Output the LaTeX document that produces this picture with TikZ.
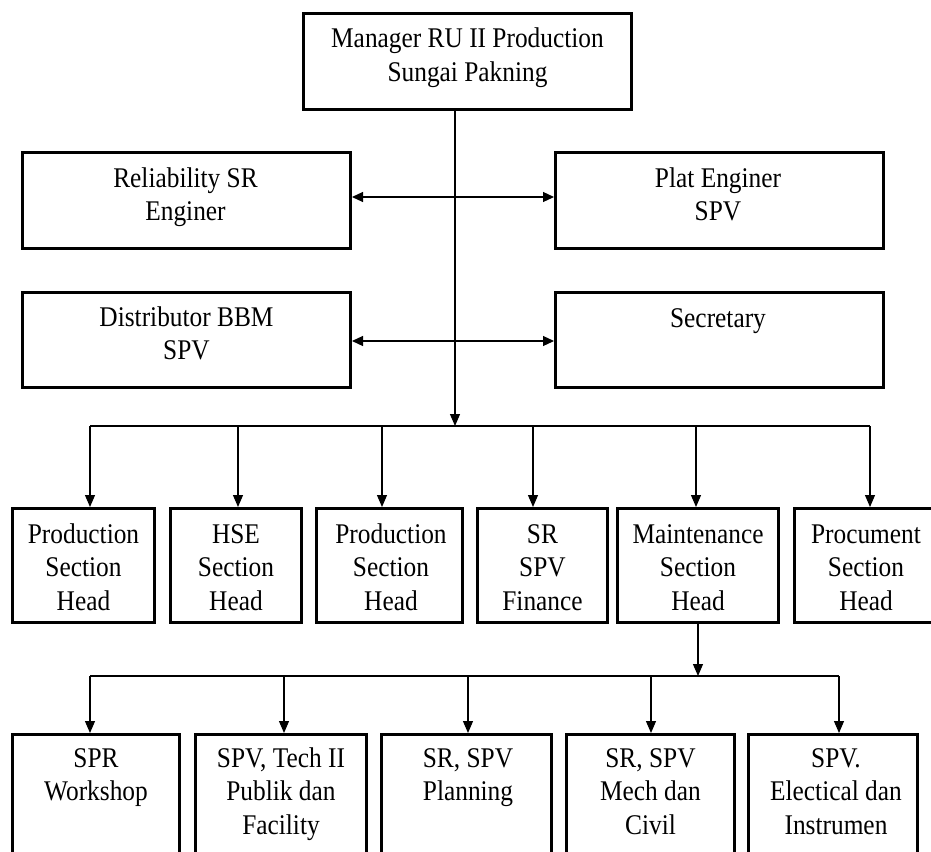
\documentclass[tikz,border=0pt]{standalone}
\usepackage{fontspec}
\setmainfont{Liberation Serif}[FakeStretch=0.89]
\usetikzlibrary{arrows.meta}
\newcommand{\boxlines}[1]{\begin{tabular}[t]{@{}c@{}}#1\end{tabular}}
\begin{document}
\begin{tikzpicture}[x=1pt,y=-1pt,
  boxst/.style={draw, line width=3pt, inner sep=0pt},
  lbl/.style={anchor=base, inner sep=0pt, font=\fontsize{28.5}{33.5}\selectfont},
  conn/.style={line width=1.2pt},
  arr/.style={conn, -{Triangle[length=12pt,width=10pt]}},
  darr/.style={conn, {Triangle[length=11pt,width=10pt]}-{Triangle[length=11pt,width=10pt]}}]
\clip (0,0) rectangle (931,851);
\useasboundingbox (0,0) rectangle (931,851);

% top boxes
\node[boxst, minimum width=328pt, minimum height=96pt] (man) at (467.5,61.5) {};
\node[boxst, minimum width=328pt, minimum height=96pt] (rel) at (186.5,200.5) {};
\node[boxst, minimum width=328pt, minimum height=96pt] (plat) at (719.5,200.5) {};
\node[boxst, minimum width=328pt, minimum height=95pt] (dist) at (186.5,340) {};
\node[boxst, minimum width=328pt, minimum height=95pt] (sec) at (719.5,340) {};

\node[lbl] (tman) at (467.5,48) {\boxlines{Manager RU II Production\\Sungai Pakning}};
\node[lbl] (trel) at (185.5,187) {\boxlines{Reliability SR\\Enginer}};
\node[lbl] (tplat) at (718,187) {\boxlines{Plat Enginer\\SPV}};
\node[lbl] (tdist) at (186.5,326) {\boxlines{Distributor BBM\\SPV}};
\node[lbl] (tsec) at (718,327) {\boxlines{Secretary}};

% row 2
\node[boxst, minimum width=142pt, minimum height=114pt] (p1) at (83.5,565.5) {};
\node[boxst, minimum width=131pt, minimum height=114pt] (p2) at (236,565.5) {};
\node[boxst, minimum width=146pt, minimum height=114pt] (p3) at (389.5,565.5) {};
\node[boxst, minimum width=130pt, minimum height=114pt] (p4) at (542.5,565.5) {};
\node[boxst, minimum width=161pt, minimum height=114pt] (p5) at (698,565.5) {};
\node[boxst, minimum width=139pt, minimum height=114pt] (p6) at (864,565.5) {};

\node[lbl] (tp1) at (83.5,543) {\boxlines{Production\\Section\\Head}};
\node[lbl] (tp2) at (236,543) {\boxlines{HSE\\Section\\Head}};
\node[lbl] (tp3) at (391,543) {\boxlines{Production\\Section\\Head}};
\node[lbl] (tp4) at (542.5,543) {\boxlines{SR\\SPV\\Finance}};
\node[lbl] (tp5) at (698,543) {\boxlines{Maintenance\\Section\\Head}};
\node[lbl] (tp6) at (866,543) {\boxlines{Procument\\Section\\Head}};

% row 3
\node[boxst, minimum width=167pt, minimum height=124pt] (q1) at (96,796.5) {};
\node[boxst, minimum width=171pt, minimum height=124pt] (q2) at (281,796.5) {};
\node[boxst, minimum width=170pt, minimum height=124pt] (q3) at (466.5,796.5) {};
\node[boxst, minimum width=168pt, minimum height=124pt] (q4) at (650.5,796.5) {};
\node[boxst, minimum width=169pt, minimum height=124pt] (q5) at (833,796.5) {};

\node[lbl] (tq1) at (96,767) {\boxlines{SPR\\Workshop}};
\node[lbl] (tq2) at (281,767) {\boxlines{SPV, Tech II\\Publik dan\\Facility}};
\node[lbl] (tq3) at (468,767) {\boxlines{SR, SPV\\Planning}};
\node[lbl] (tq4) at (650.5,767) {\boxlines{SR, SPV\\Mech dan\\Civil}};
\node[lbl] (tq5) at (836,767) {\boxlines{SPV.\\Electical dan\\Instrumen}};

% connectors level 1
\coordinate (t0) at (455,111);
\coordinate (j1) at (455,426);
\draw[arr] (t0) -- (j1);
\draw[darr] ([yshift=3.5pt]rel.east) -- ([yshift=3.5pt]plat.west);
\draw[darr] ([yshift=-1pt]dist.east) -- ([yshift=-1pt]sec.west);

\coordinate (b1) at (90,426);
\coordinate (b2) at (238,426);
\coordinate (b3) at (382,426);
\coordinate (b4) at (533,426);
\coordinate (b5) at (696,426);
\coordinate (b6) at (870,426);
\draw[conn] (b1) -- (b6);
\draw[arr] (b1) -- (b1 |- p1.north);
\draw[arr] (b2) -- (b2 |- p2.north);
\draw[arr] (b3) -- (b3 |- p3.north);
\draw[arr] (b4) -- (b4 |- p4.north);
\draw[arr] (b5) -- (b5 |- p5.north);
\draw[arr] (b6) -- (b6 |- p6.north);

% connectors level 2
\coordinate (m1) at (698,676);
\draw[arr] (p5.south) -- (m1);
\coordinate (c1) at (90,676);
\coordinate (c2) at (284,676);
\coordinate (c3) at (468,676);
\coordinate (c4) at (651,676);
\coordinate (c5) at (839,676);
\draw[conn] (c1) -- (c5);
\draw[arr] (c1) -- (c1 |- q1.north);
\draw[arr] (c2) -- (c2 |- q2.north);
\draw[arr] (c3) -- (c3 |- q3.north);
\draw[arr] (c4) -- (c4 |- q4.north);
\draw[arr] (c5) -- (c5 |- q5.north);
\end{tikzpicture}
\end{document}
